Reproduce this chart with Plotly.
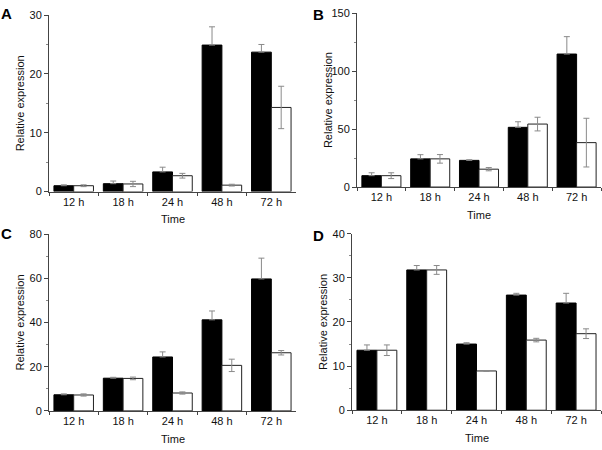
import plotly.graph_objects as go

times = ["12 h", "18 h", "24 h", "48 h", "72 h"]

a_black = [1.0, 1.35, 3.35, 24.9, 23.7]
a_black_err = [0.15, 0.45, 0.8, 3.1, 1.3]
a_white = [1.0, 1.3, 2.7, 1.1, 14.3]
a_white_err = [0.15, 0.45, 0.4, 0.15, 3.6]

b_black = [9.8, 24.3, 23.0, 51.5, 114.7]
b_black_err = [2.5, 3.6, 0.5, 4.8, 15.0]
b_white = [9.8, 24.3, 15.4, 54.3, 38.3]
b_white_err = [2.5, 3.7, 1.4, 5.9, 21.0]

c_black = [7.3, 14.8, 24.4, 41.2, 59.7]
c_black_err = [0.4, 0.4, 2.3, 4.0, 9.4]
c_white = [7.2, 14.7, 8.1, 20.6, 26.3]
c_white_err = [0.5, 0.6, 0.5, 2.8, 1.0]

d_black = [13.6, 31.8, 15.0, 26.1, 24.3]
d_black_err = [1.2, 1.0, 0.3, 0.4, 2.2]
d_white = [13.6, 31.8, 8.9, 15.9, 17.35]
d_white_err = [1.2, 1.0, 0.1, 0.4, 1.1]

y_max = [30, 150, 80, 40]
y_dtick = [10, 50, 20, 10]
panel_labels = ["A", "B", "C", "D"]

W, H = 602, 450
# pixel boxes: (left, right, top, bottom)
boxes = [(49, 296, 9.3, 190.7), (357, 601, 7.3, 186), (49, 296, 234.3, 416), (352, 601, 234, 415.3)]
letter_pos = [(6, 8), (318, 8.5), (6, 234), (318, 236)]

FONT = "Arial, Liberation Sans, sans-serif"
fig = go.Figure()

panels = [
    (a_black, a_black_err, a_white, a_white_err),
    (b_black, b_black_err, b_white, b_white_err),
    (c_black, c_black_err, c_white, c_white_err),
    (d_black, d_black_err, d_white, d_white_err),
]

for i, (kb, kbe, kw, kwe) in enumerate(panels):
    n = "" if i == 0 else str(i + 1)
    fig.add_trace(go.Bar(
        x=times, y=kb, xaxis="x" + n, yaxis="y" + n,
        marker=dict(color="black", line=dict(color="black", width=1)),
        error_y=dict(type="data", array=kbe, arrayminus=[0] * len(kbe), symmetric=False,
                     color="#8a8a8a", thickness=1, width=3),
        showlegend=False,
    ))
    fig.add_trace(go.Bar(
        x=times, y=kw, xaxis="x" + n, yaxis="y" + n,
        marker=dict(color="white", line=dict(color="#222", width=1)),
        error_y=dict(type="data", array=kwe, color="#8a8a8a", thickness=1, width=3),
        showlegend=False,
    ))
    l, r, t, b = boxes[i]
    fig.layout["xaxis" + n] = dict(
        domain=[l / W, r / W], anchor="y" + n, type="category",
        range=[-0.5, 4.5], showline=True, linecolor="#444", linewidth=1,
        ticks="outside", ticklen=3, tickcolor="#444", tickson="boundaries",
        tickfont=dict(family=FONT, size=11, color="#111"),
        showgrid=False, zeroline=False, fixedrange=True,
    )
    fig.layout["yaxis" + n] = dict(
        domain=[1 - b / H, 1 - t / H], anchor="x" + n,
        range=[0, y_max[i]], dtick=y_dtick[i], showline=True, linecolor="#444", linewidth=1,
        ticks="outside", ticklen=4, tickcolor="#444",
        minor=dict(ticks="outside", ticklen=2, tickcolor="#888", dtick=y_dtick[i] / 2),
        tickfont=dict(family=FONT, size=11, color="#111"),
        showgrid=False, zeroline=False, fixedrange=True,
    )
    # axis titles
    fig.add_annotation(x=(l + r) / 2 / W, y=1 - (b + 28.5) / H, xref="paper", yref="paper",
                       xanchor="center", yanchor="middle",
                       text="Time", showarrow=False,
                       font=dict(family=FONT, size=11, color="#111"))
    fig.add_annotation(x=(l - 29) / W, y=1 - (t + b) / 2 / H, xref="paper", yref="paper",
                       xanchor="center", yanchor="middle",
                       text="Relative expression", textangle=-90, showarrow=False,
                       font=dict(family=FONT, size=11, color="#111"))
    lx, ly = letter_pos[i]
    fig.add_annotation(x=lx / W, y=1 - ly / H, xref="paper", yref="paper",
                       xanchor="center", yanchor="middle",
                       text="<b>" + panel_labels[i] + "</b>", showarrow=False,
                       font=dict(family=FONT, size=15, color="black"))

fig.update_layout(
    width=W, height=H, margin=dict(l=0, r=0, t=0, b=0),
    barmode="group", bargap=0.2, bargroupgap=0,
    plot_bgcolor="white", paper_bgcolor="white",
)

fig.write_html("out.html", config={"displayModeBar": False},
               post_script="document.body.style.margin='0';")
